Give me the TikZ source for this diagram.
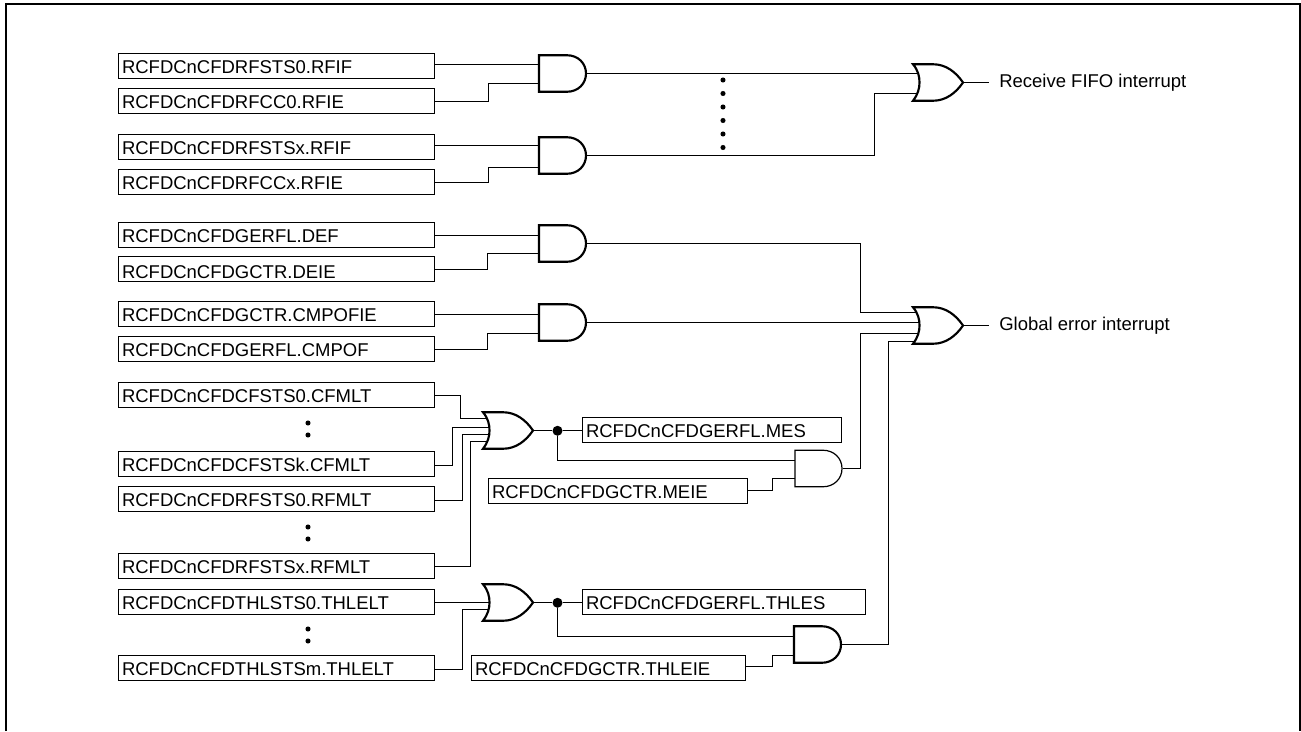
\documentclass[tikz,border=0pt]{standalone}
\usepackage{fontspec}
\setmainfont{Liberation Sans}
\tikzset{
  regbox/.style={draw=black, rectangle, anchor=north west, inner xsep=2.6pt, inner ysep=0pt,
    minimum height=18.75pt, text height=11.5pt, text depth=0pt, text width=#1, align=left,
    line width=0.8pt, font=\fontsize{13.87}{16}\selectfont},
  lbl/.style={anchor=west, inner xsep=7.5pt, inner ysep=0pt, font=\fontsize{13.87}{16}\selectfont},
  gatenode/.style={rectangle, inner sep=0pt, minimum width=#1, minimum height=27.375pt, anchor=north west},
  wire/.style={draw=black, line width=0.9pt},
  gateline/.style={draw=black, fill=white, line width=#1, line join=miter},
  gateline/.default=1.6pt,
  junction/.style={circle, fill=black, inner sep=0pt, minimum size=7.5pt},
}
\newcommand\andshape[2]{%
  \begin{scope}[shift={(#1.north west)}]
    \draw[gateline=#2] (0,0) -- (28,0) .. controls (39,0) and (47,8) .. (47,18.25)
      .. controls (47,28.5) and (39,36.5) .. (28,36.5) -- (0,36.5) -- cycle;
  \end{scope}}
\newcommand\orshape[1]{%
  \begin{scope}[shift={(#1.north west)}]
    \draw[gateline] (0,0) -- (20,0) .. controls (33,0) and (43,8) .. (50,18.25)
      .. controls (43,28.5) and (33,36.5) .. (20,36.5) -- (0,36.5)
      .. controls (5,30) and (6.5,24) .. (6.5,18.25) .. controls (6.5,12) and (5,6) .. (0,0) -- cycle;
  \end{scope}}
\begin{document}
\begin{tikzpicture}[x=0.75pt,y=-0.75pt]
\useasboundingbox (0,0) rectangle (1301,731);
\fill[white] (0,0) rectangle (1301,731);
\draw[black, line width=1.2pt] (6,731) -- (6,4) -- (1300,4) -- (1300,731);

% registers
\node[regbox=231.8pt] (b1) at (118,53) {RCFDCnCFDRFSTS0.RFIF};
\node[regbox=231.8pt] (b2) at (118,88) {RCFDCnCFDRFCC0.RFIE};
\node[regbox=231.8pt] (b3) at (118,134) {RCFDCnCFDRFSTSx.RFIF};
\node[regbox=231.8pt] (b4) at (118,168.5) {RCFDCnCFDRFCCx.RFIE};
\node[regbox=231.8pt] (b5) at (118,221.5) {RCFDCnCFDGERFL.DEF};
\node[regbox=231.8pt] (b6) at (118,256) {\raisebox{-1.1pt}{RCFDCnCFDGCTR.DEIE}};
\node[regbox=231.8pt] (b7) at (118,301) {RCFDCnCFDGCTR.CMPOFIE};
\node[regbox=231.8pt] (b8) at (118,335.5) {\raisebox{-0.4pt}{RCFDCnCFDGERFL.CMPOF}};
\node[regbox=231.8pt] (b9) at (118,382) {RCFDCnCFDCFSTS0.CFMLT};
\node[regbox=231.8pt] (b10) at (118,451) {RCFDCnCFDCFSTSk.CFMLT};
\node[regbox=231.8pt] (b11) at (118,485.5) {RCFDCnCFDRFSTS0.RFMLT};
\node[regbox=231.8pt] (b12) at (118,553) {RCFDCnCFDRFSTSx.RFMLT};
\node[regbox=231.8pt] (b13) at (118,589) {RCFDCnCFDTHLSTS0.THLELT};
\node[regbox=231.8pt] (b14) at (118,655) {RCFDCnCFDTHLSTSm.THLELT};
\node[regbox=189.05pt] (mes) at (582,417) {RCFDCnCFDGERFL.MES};
\node[regbox=189.05pt] (meie) at (488,478) {RCFDCnCFDGCTR.MEIE};
\node[regbox=207.05pt] (thles) at (582,589) {RCFDCnCFDGERFL.THLES};
\node[regbox=200.3pt] (thleie) at (471,655) {RCFDCnCFDGCTR.THLEIE};

% gates (outlines drawn last)
\node[gatenode=35.25pt] (g1) at (539,55.25) {};
\node[gatenode=35.25pt] (g2) at (539,137.25) {};
\node[gatenode=35.25pt] (g3) at (539,225.25) {};
\node[gatenode=35.25pt] (g4) at (539,304.25) {};
\node[gatenode=35.25pt] (g5) at (795,450.25) {};
\node[gatenode=35.25pt] (g6) at (794,626.25) {};
\node[gatenode=37.5pt] (o1) at (913,64.25) {};
\node[gatenode=37.5pt] (o2) at (913,307.25) {};
\node[gatenode=37.5pt] (o3) at (483,412.25) {};
\node[gatenode=37.5pt] (o4) at (483,584.25) {};

% junctions and labels
\node[junction] (j3) at (557.5,0 |- o3.east) {};
\node[junction] (j4) at (557.5,0 |- o4.east) {};
\node[lbl] (t1) at (989,0 |- o1.east) {Receive FIFO interrupt};
\node[lbl] (t2) at (989,0 |- o2.east) {Global error interrupt};

% AND inputs
\draw[wire] (b1.east |- 0,64.5) -- (g1.west |- 0,64.5);
\draw[wire] (b2.east |- 0,101.5) -| (488.5,83.5) -- (g1.west |- 0,83.5);
\draw[wire] (b3.east |- 0,145.5) -- (g2.west |- 0,145.5);
\draw[wire] (b4.east |- 0,182.5) -| (488.5,167.5) -- (g2.west |- 0,167.5);
\draw[wire] (b5.east |- 0,235.5) -- (g3.west |- 0,235.5);
\draw[wire] (b6.east |- 0,269.5) -| (487.5,253.5) -- (g3.west |- 0,253.5);
\draw[wire] (b7.east |- 0,314.5) -- (g4.west |- 0,314.5);
\draw[wire] (b8.east |- 0,349.5) -| (487.5,333.5) -- (g4.west |- 0,333.5);

% AND outputs to OR
\draw[wire] (g1.east) -- (o1.center |- g1.east);
\draw[wire] (g2.east) -| (874.5,93.5) -- (o1.center |- 0,93.5);
\draw[wire] (g3.east) -| (860.5,312.5) -- (o2.center |- 0,312.5);
\draw[wire] (g4.east) -- (o2.center |- g4.east);
\draw[wire] (g5.east) -| (860.5,333.5) -- (o2.center |- 0,333.5);
\draw[wire] (g6.east) -| (888.5,341.5) -- (o2.center |- 0,341.5);

% OR outputs
\draw[wire] (o1.east) -- (t1.west);
\draw[wire] (o2.east) -- (t2.west);

% multi OR inputs
\draw[wire] (b9.east |- 0,395.5) -| (460.5,418.5) -- (o3.center |- 0,418.5);
\draw[wire] (b10.east |- 0,465.5) -| (452.5,427.5) -- (o3.center |- 0,427.5);
\draw[wire] (b11.east |- 0,500.5) -| (462.5,434.5) -- (o3.center |- 0,434.5);
\draw[wire] (b12.east |- 0,566.5) -| (470.5,441.5) -- (o3.center |- 0,441.5);
\draw[wire] (b13.east |- 0,602.5) -- (o4.center |- 0,602.5);
\draw[wire] (b14.east |- 0,669.5) -| (462.5,609.5) -- (o4.center |- 0,609.5);

% status and interrupt-enable branches
\draw[wire] (o3.east) -- (j3) -- (mes.west |- j3);
\draw[wire] (j3) |- (g5.west |- 0,460.5);
\draw[wire] (meie.east |- 0,490.5) -| (772.5,478.5) -- (g5.west |- 0,478.5);
\draw[wire] (o4.east) -- (j4) -- (thles.west |- j4);
\draw[wire] (j4) |- (g6.west |- 0,636.5);
\draw[wire] (thleie.east |- 0,666.5) -| (772.5,655.5) -- (g6.west |- 0,655.5);

% gate outlines
\andshape{g1}{1.6pt}\andshape{g2}{1.6pt}\andshape{g3}{1.6pt}\andshape{g4}{1.6pt}
\andshape{g5}{0.9pt}\andshape{g6}{1.6pt}
\orshape{o1}\orshape{o2}\orshape{o3}\orshape{o4}

% ellipsis dots
\foreach \p in {(723,80),(723,93.5),(723,107),(723,120.5),(723,134),(723,147.5),
  (308,423),(308,435),(308,527),(308,539),(308,629),(308,641)}
  \fill[black] \p circle[radius=1.9pt];
\end{tikzpicture}
\end{document}
